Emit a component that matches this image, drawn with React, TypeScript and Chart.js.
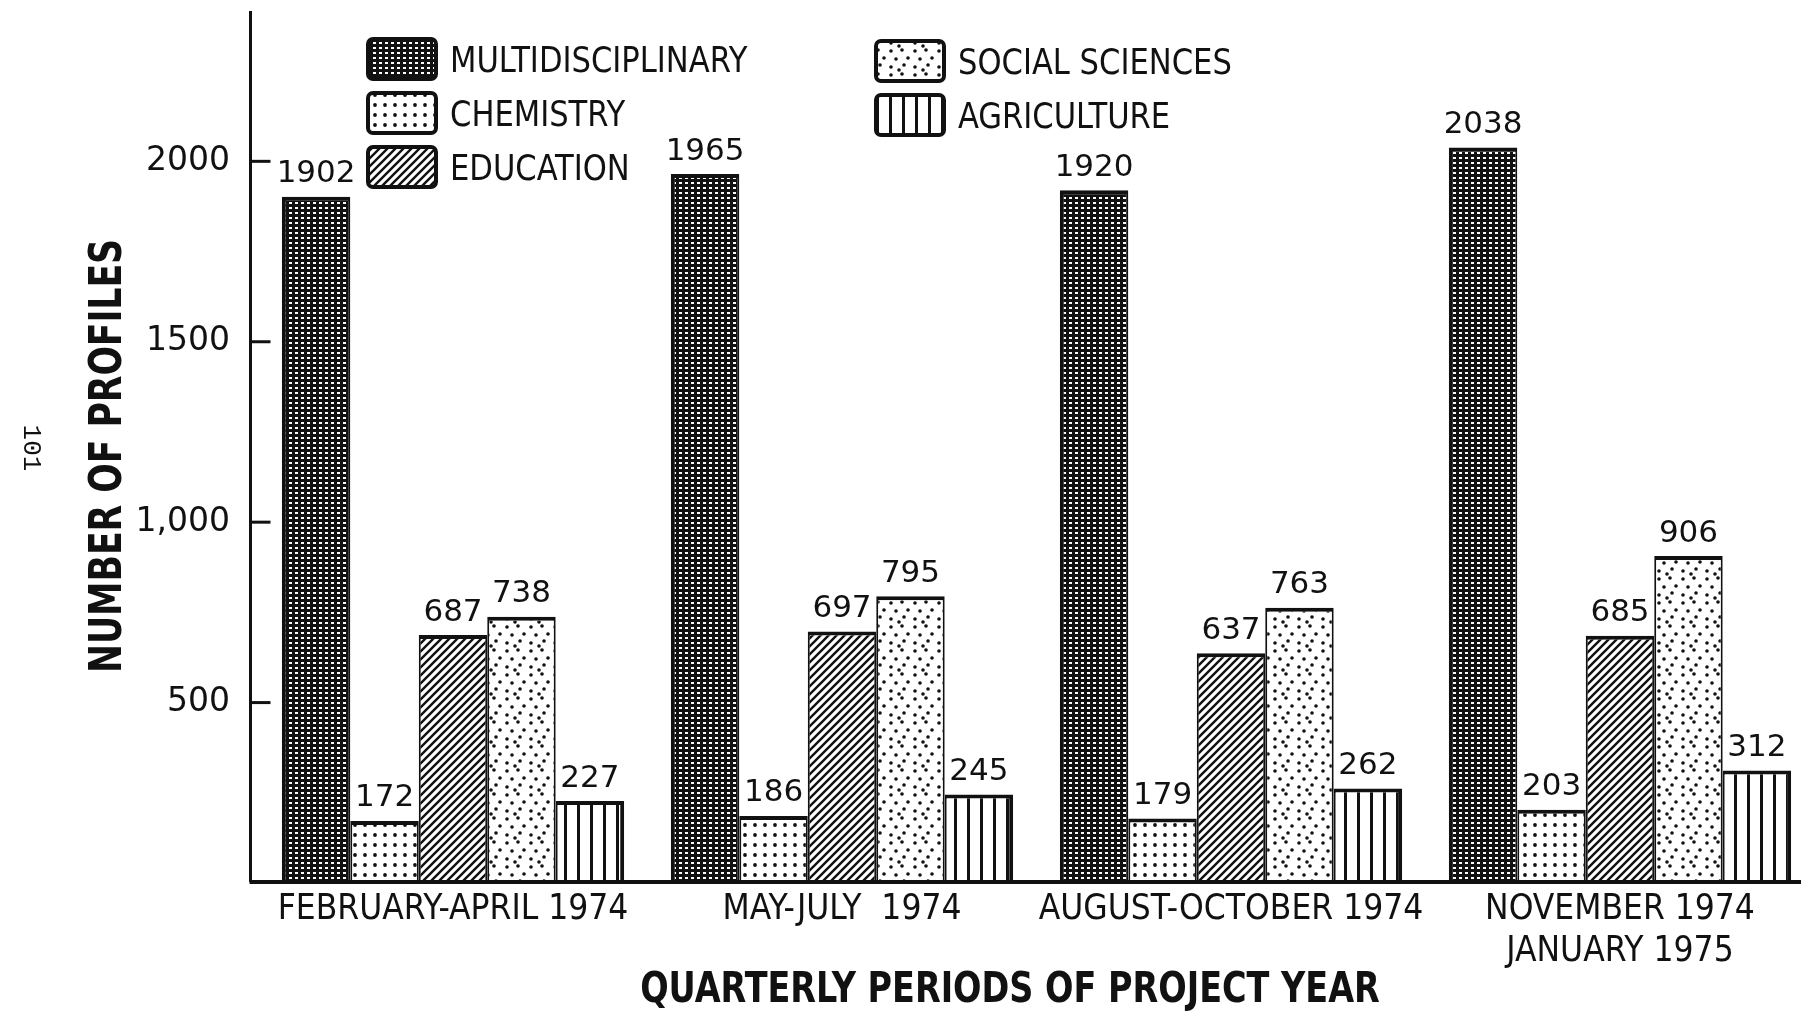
import React, { useEffect, useRef } from "react";
import { Chart, registerables } from "chart.js";
Chart.register(...registerables);

// ---------- data ----------
const categories: (string | string[])[] = [
  "FEBRUARY-APRIL 1974",
  "MAY-JULY  1974",
  "AUGUST-OCTOBER 1974",
  ["NOVEMBER 1974", "JANUARY 1975"],
];
const seriesNames = ["MULTIDISCIPLINARY", "CHEMISTRY", "EDUCATION", "SOCIAL SCIENCES", "AGRICULTURE"];
const multidisciplinary = [1902, 1965, 1920, 2038];
const chemistry = [172, 186, 179, 203];
const education = [687, 697, 637, 685];
const socialSciences = [738, 795, 763, 906];
const agriculture = [227, 245, 262, 312];
const yTickValues = [500, 1000, 1500, 2000];
const yTickLabels = ["500", "1,000", "1500", "2000"];
const xAxisTitle = "QUARTERLY PERIODS OF PROJECT YEAR";
const yAxisTitle = "NUMBER OF PROFILES";
const pageNumber = "101";

// ---------- styles ----------
const NARROW = "'Liberation Sans Narrow', 'DejaVu Sans Condensed', 'Arial Narrow', sans-serif";
const WIDE = "'DejaVu Sans', sans-serif";
const INK = "#111";

function makePattern(kind: string): CanvasPattern | string {
  const c = document.createElement("canvas");
  let w = 10, h = 10;
  if (kind === "multi") { w = 6; h = 5; }
  if (kind === "soc") { w = 24; h = 24; }
  if (kind === "edu") { w = 8; h = 8; }
  if (kind === "agri") { w = 13; h = 4; }
  c.width = w; c.height = h;
  const g = c.getContext("2d")!;
  g.fillStyle = "#fff";
  g.fillRect(0, 0, w, h);
  g.fillStyle = INK;
  g.strokeStyle = INK;
  if (kind === "multi") {
    g.fillStyle = INK;
    g.fillRect(0, 0, w, h);
    g.fillStyle = "#fff";
    g.fillRect(1, 2, 3, 2);
  } else if (kind === "chem") {
    g.beginPath(); g.arc(5, 5, 1.9, 0, Math.PI * 2); g.fill();
  } else if (kind === "soc") {
    const dots = [[3, 3], [14, 2], [20, 10], [8, 11], [16, 17], [3, 19], [11, 22]];
    dots.forEach(([x, y]) => { g.beginPath(); g.arc(x, y, 1.8, 0, Math.PI * 2); g.fill(); });
  } else if (kind === "edu") {
    g.lineWidth = 2.4;
    g.beginPath();
    g.moveTo(-1, 9); g.lineTo(9, -1);
    g.moveTo(-5, 5); g.lineTo(5, -5);
    g.moveTo(3, 13); g.lineTo(13, 3);
    g.stroke();
  } else if (kind === "agri") {
    g.fillRect(5, 0, 3, h);
  }
  return g.createPattern(c, "repeat") || "#888";
}

function squeezedText(ctx: CanvasRenderingContext2D, text: string, x: number, y: number, sx: number, rot = 0) {
  ctx.save();
  ctx.translate(x, y);
  if (rot) ctx.rotate(rot);
  ctx.scale(sx, 1);
  ctx.fillText(text, 0, 0);
  ctx.restore();
}

const axisPlugin = {
  id: "axesDecor",
  afterDraw(chart: any) {
    const { ctx, chartArea } = chart;
    const yScale = chart.scales.y;
    const axisX = chartArea.left - 8;
    const baseY = chartArea.bottom - 1;
    ctx.save();
    ctx.strokeStyle = INK;
    ctx.lineWidth = 3;
    ctx.beginPath();
    ctx.moveTo(axisX, 11);
    ctx.lineTo(axisX, baseY);
    ctx.stroke();
    ctx.lineWidth = 4;
    ctx.beginPath();
    ctx.moveTo(axisX - 1, baseY);
    ctx.lineTo(chart.width, baseY);
    ctx.stroke();
    ctx.lineWidth = 3;
    yTickValues.forEach((v) => {
      const y = yScale.getPixelForValue(v);
      ctx.beginPath();
      ctx.moveTo(axisX, y);
      ctx.lineTo(axisX + 20, y);
      ctx.stroke();
    });
    ctx.fillStyle = INK;
    ctx.textAlign = "center";
    ctx.textBaseline = "middle";
    // x-axis title
    ctx.font = `bold 43px ${NARROW}`;
    squeezedText(ctx, xAxisTitle, 1010, 991, 0.865);
    // y-axis title
    ctx.font = `bold 45px ${NARROW}`;
    squeezedText(ctx, yAxisTitle, 109, 456, 0.855, -Math.PI / 2);
    // page number
    ctx.font = `26px 'Liberation Mono', 'DejaVu Sans Mono', monospace`;
    squeezedText(ctx, pageNumber, 31, 448, 1, Math.PI / 2);
    ctx.restore();
  },
};

const labelPlugin = {
  id: "valueLabels",
  afterDatasetsDraw(chart: any) {
    const { ctx } = chart;
    ctx.save();
    ctx.fillStyle = INK;
    ctx.font = `31px ${WIDE}`;
    ctx.textAlign = "center";
    ctx.textBaseline = "bottom";
    chart.data.datasets.forEach((ds: any, i: number) => {
      const meta = chart.getDatasetMeta(i);
      meta.data.forEach((bar: any, j: number) => {
        ctx.fillText(String(ds.data[j]), bar.x, bar.y - 7);
      });
    });
    ctx.restore();
  },
};

const legendPlugin = {
  id: "patternLegend",
  afterDraw(chart: any) {
    const { ctx } = chart;
    const cols = [368, 876];
    ctx.save();
    chart.data.datasets.forEach((ds: any, i: number) => {
      const col = i < 3 ? 0 : 1;
      const row = i < 3 ? i : i - 3;
      const x = cols[col];
      const y = 39 + row * 54 + col * 2;
      const w = 68, h = 40;
      ctx.beginPath();
      (ctx as any).roundRect(x, y, w, h, 5);
      ctx.fillStyle = ds.backgroundColor;
      ctx.fill();
      ctx.lineWidth = 4;
      ctx.strokeStyle = INK;
      ctx.stroke();
      ctx.fillStyle = INK;
      ctx.font = `36px ${NARROW}`;
      ctx.textAlign = "left";
      ctx.textBaseline = "middle";
      squeezedText(ctx, ds.label, x + 82, y + h / 2 + 4, 0.945);
    });
    ctx.restore();
  },
};

export default function App() {
  const ref = useRef<HTMLCanvasElement>(null);
  useEffect(() => {
    if (!ref.current) return;
    const kinds = ["multi", "chem", "edu", "soc", "agri"];
    const values = [multidisciplinary, chemistry, education, socialSciences, agriculture];
    const datasets = values.map((data, i) => ({
      label: seriesNames[i],
      data,
      backgroundColor: makePattern(kinds[i]),
      borderColor: INK,
      borderWidth: {
        top: 4,
        left: i === 0 ? 4 : 2,
        right: i === values.length - 1 ? 4 : 2,
        bottom: 0,
      },
      borderSkipped: "start",
      categoryPercentage: 0.88,
      barPercentage: 1.0,
    }));
    const chart = new Chart(ref.current, {
      type: "bar",
      data: { labels: categories as any, datasets: datasets as any },
      options: {
        animation: false,
        responsive: false,
        devicePixelRatio: 1,
        layout: { padding: { left: 0, right: 15.5, top: 17, bottom: 0 } },
        plugins: { legend: { display: false }, tooltip: { enabled: false } },
        scales: {
          x: {
            type: "category",
            offset: true,
            grid: { display: false, drawTicks: false },
            border: { display: false },
            ticks: {
              color: INK,
              font: { family: NARROW, size: 35, lineHeight: 1.2 },
              padding: 6,
              maxRotation: 0,
              autoSkip: false,
            },
            afterFit: (s: any) => { s.height = 128; s.paddingLeft = 0; s.paddingRight = 0; },
          },
          y: {
            type: "linear",
            min: 0,
            max: 2400,
            grid: { display: false, drawTicks: false },
            border: { display: false },
            afterBuildTicks: (s: any) => { s.ticks = yTickValues.map((v) => ({ value: v })); },
            ticks: {
              color: INK,
              font: { family: WIDE, size: 33 },
              padding: 28.5,
              callback: (v: any) => {
                const k = yTickValues.indexOf(Number(v));
                return k >= 0 ? yTickLabels[k] : "";
              },
            },
            afterFit: (s: any) => { s.width = 258.5; s.paddingTop = 0; s.paddingBottom = 0; },
          },
        },
      },
      plugins: [labelPlugin, axisPlugin, legendPlugin],
    } as any);
    return () => chart.destroy();
  }, []);
  return (
    <div style={{ position: "fixed", left: 0, top: 0, width: 1801, height: 1011, overflow: "hidden", background: "#fff" }}>
      <canvas ref={ref} width={1830} height={1011} style={{ width: 1830, height: 1011, display: "block" }} />
    </div>
  );
}
